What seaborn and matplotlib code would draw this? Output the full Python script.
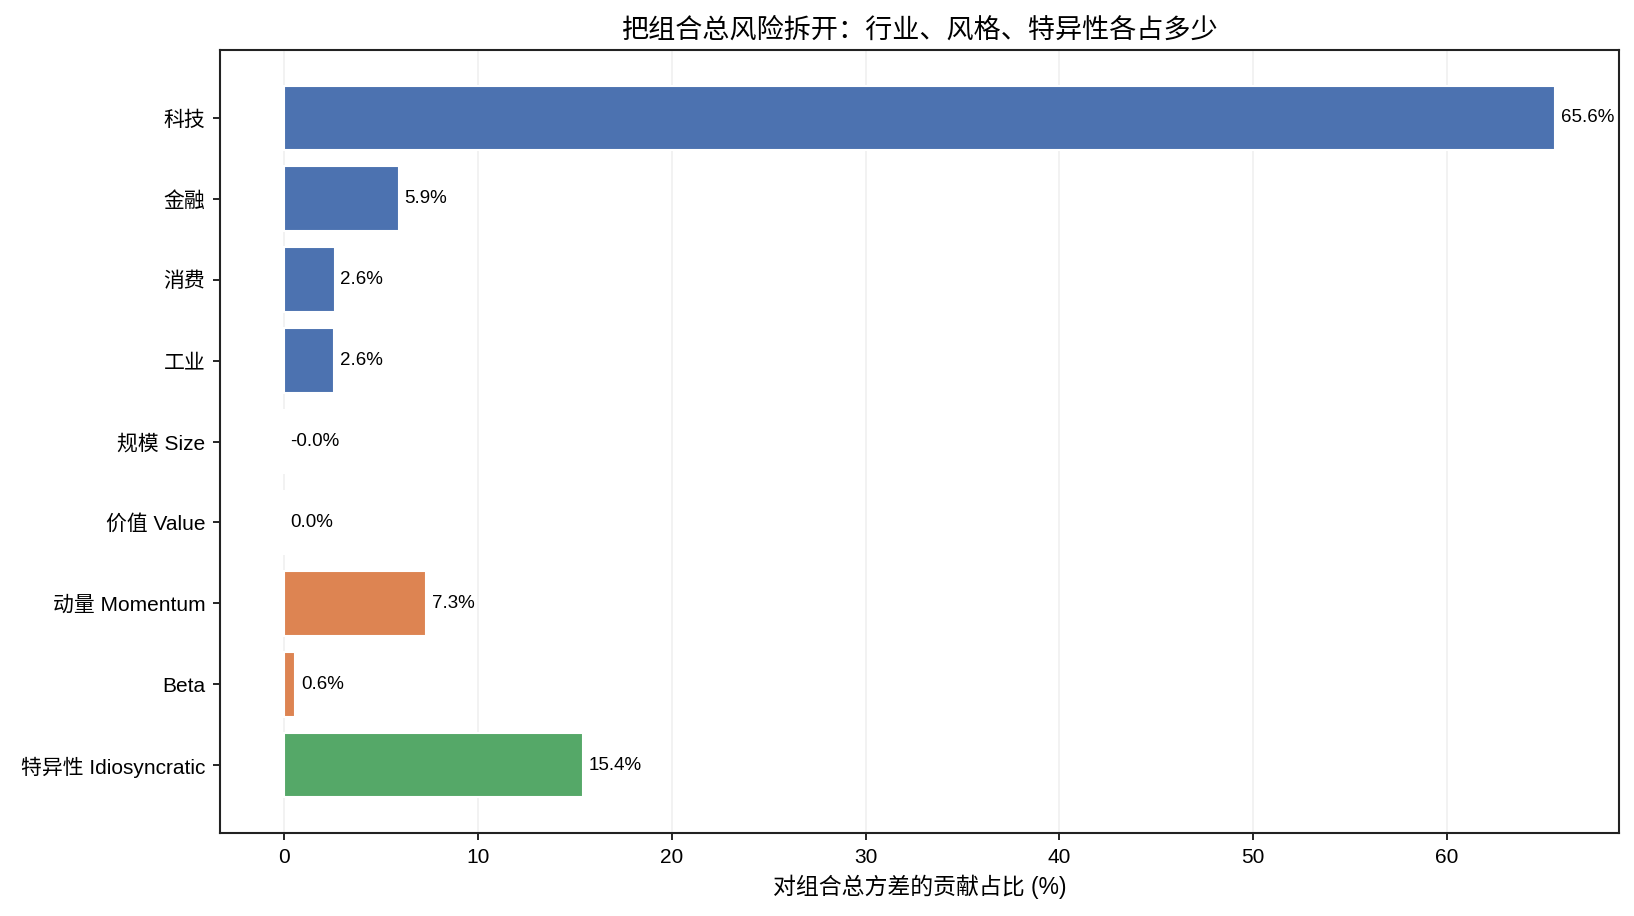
import numpy as np
import pandas as pd
import matplotlib
matplotlib.use('Agg')
import matplotlib.pyplot as plt
import seaborn as sns

# dados
Fatores = ['科技', '金融', '消费', '工业', '规模 Size', '价值 Value', '动量 Momentum', 'Beta', '特异性 Idiosyncratic']
Contrib = [65.6, 5.9, 2.6, 2.56, -0.04, 0.01, 7.3, 0.57, 15.4]
Grupo = ['行业', '行业', '行业', '行业', '风格', '风格', '风格', '风格', '特异性']

Cores = {'行业': '#4C72B0', '风格': '#DD8452', '特异性': '#55A868'}

Base = pd.DataFrame({'Fator': Fatores, 'Contrib': Contrib, 'Grupo': Grupo})

sns.set_style('ticks')
plt.rcParams['font.family'] = ['Liberation Sans', 'Noto Sans CJK SC', 'DejaVu Sans']
plt.rcParams['axes.unicode_minus'] = False

fig, ax = plt.subplots(figsize=(1634 / 150, 916 / 150), dpi=150)
fig.subplots_adjust(left=0.1346, right=0.9908, top=0.9454, bottom=0.0906)

sns.barplot(data=Base, x='Contrib', y='Fator', hue='Grupo', palette=Cores,
            orient='h', dodge=False, legend=False, width=0.8,
            saturation=1, ax=ax)

# rótulos com a porcentagem
for i, v in enumerate(Contrib):
    ax.text(max(v, 0) + 0.3, i, f'{v:.1f}%', va='center', ha='left', fontsize=9, color='black')

ax.grid(axis='x', alpha=0.3)
ax.set_axisbelow(True)
ax.margins(x=0.05)
ax.set_ylim(len(Fatores) - 1 + 0.4 + 0.44, -0.4 - 0.44)

ax.set_title('把组合总风险拆开：行业、风格、特异性各占多少', fontsize=13, color='black')
ax.set_xlabel('对组合总方差的贡献占比 (%)', fontsize=11, color='black')
ax.set_ylabel('')
ax.tick_params(labelsize=10, colors='black')
for s in ax.spines.values():
    s.set_color('#222222')
    s.set_linewidth(1.0)
    s.set_visible(True)

fig.savefig('out.png', dpi=150)
